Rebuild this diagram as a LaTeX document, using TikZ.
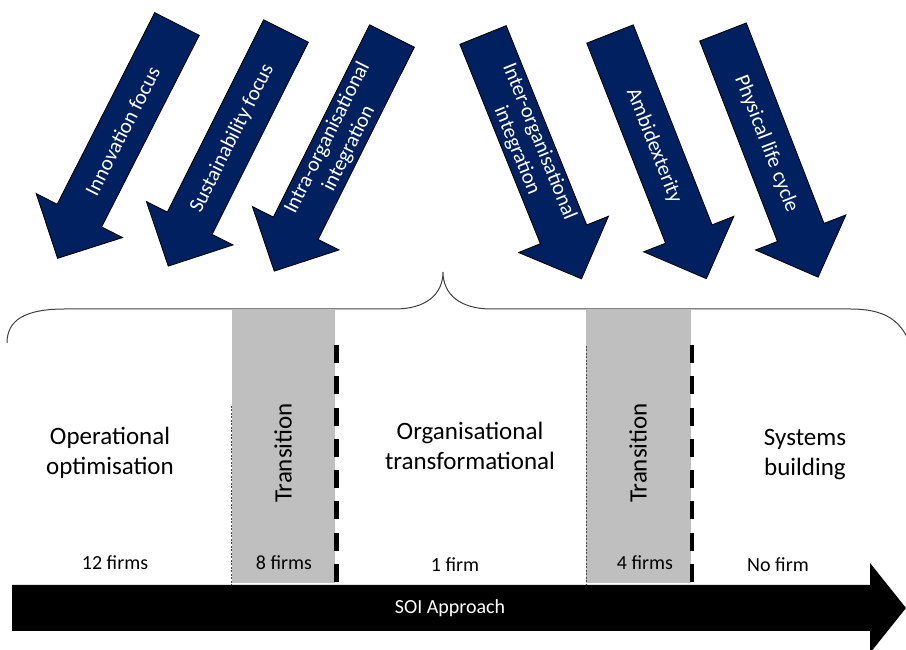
\documentclass[tikz,border=0pt]{standalone}
\usepackage{fontspec}
\setmainfont{Carlito}
\usetikzlibrary{arrows}
\usetikzlibrary{shapes}

\definecolor{navy}{HTML}{002060}
\definecolor{band}{HTML}{BFBFBF}

\newcommand{\Driver}[5]{
\begin{scope}[shift = {#2}, rotate = #3]
\filldraw[DriverStyle] (0,25) -- (215,25) -- (215,48.5) -- (263,0) -- (215,-48.5) -- (215,-25) -- (0,-25) -- cycle;
\node[DriverText, rotate = #4] (#1) at (120,0) {#5};
\end{scope}
}

\begin{document}
\begin{tikzpicture}[x = 1pt, y = 1pt]
\tikzstyle{DriverStyle}=[fill = navy, draw = black, line width = 0.8pt]
\tikzstyle{DriverText}=[text = white, align = center, transform shape,
                        font = \fontsize{21}{24}\selectfont]
\tikzstyle{BandStyle}=[fill = band, draw = none]
\tikzstyle{StageText}=[align = center, font = \fontsize{25}{30}\selectfont]
\tikzstyle{FirmText}=[font = \fontsize{20}{24}\selectfont]
\tikzstyle{ThinLine}=[draw = black!70, line width = 0.6pt, dash pattern = on 2pt off 1.5pt]
\tikzstyle{ThickLine}=[draw = black, line width = 4.5pt, dash pattern = on 18pt off 13.3pt]
\useasboundingbox (0,0) rectangle (906,650);
\Driver{d1}{(177,626)}{-117}{180}{Innovation focus}
\Driver{d2}{(286,619)}{-116.6}{180}{Sustainability focus}
\Driver{d3}{(392,614)}{-116.6}{180}{Intra-organisational\\integration}
\Driver{d4}{(483,615)}{-68}{0}{Inter-organisational\\integration}
\Driver{d5}{(610,616)}{-68.5}{0}{Ambidexterity}
\Driver{d6}{(723,618)}{-68.8}{0}{Physical life cycle}
\draw[draw = black!75, line width = 1pt] (7,307) .. controls (7,330) and (25,341) .. (65,341) -- (395,341) .. controls (425,341) and (443,355) .. (443,378) .. controls (443,355) and (461,341) .. (491,341) -- (850,341) .. controls (885,341) and (903,330) .. (912,300);
\fill[BandStyle] (232,67) rectangle (335,341);
\fill[BandStyle] (586,67) rectangle (691,341);
\coordinate (t1a) at (231,244);
\coordinate (t1b) at (231,65);
\coordinate (t2a) at (586,304);
\coordinate (t2b) at (586,65);
\coordinate (k1a) at (336.5,305);
\coordinate (k1b) at (336.5,67);
\coordinate (k2a) at (692,305);
\coordinate (k2b) at (692,67);
\draw[ThinLine] (t1a) -- (t1b);
\draw[ThinLine] (t2a) -- (t2b);
\draw[ThickLine] (k1a) -- (k1b);
\draw[ThickLine] (k2a) -- (k2b);
\fill[black] (12,19) -- (870,19) -- (870,-3) -- (906,42) -- (870,87) -- (870,65) -- (12,65) -- cycle;
\node[FirmText, text = white] (soi) at (450,42) {SOI Approach};
\node[StageText] (s1) at (110,197) {Operational\\optimisation};
\node[StageText, rotate = 90] (tr1) at (283,197) {Transition};
\node[StageText] (s2) at (470,204) {Organisational\\transformational};
\node[StageText, rotate = 90] (tr2) at (638,197) {Transition};
\node[StageText] (s3) at (805,195) {Systems\\building};
\node[FirmText] (f1) at (115,87) {12 firms};
\node[FirmText] (f2) at (284,87) {8 firms};
\node[FirmText] (f3) at (455,85) {1 firm};
\node[FirmText] (f4) at (645,87) {4 firms};
\node[FirmText] (f5) at (778,85) {No firm};
\end{tikzpicture}
\end{document}
